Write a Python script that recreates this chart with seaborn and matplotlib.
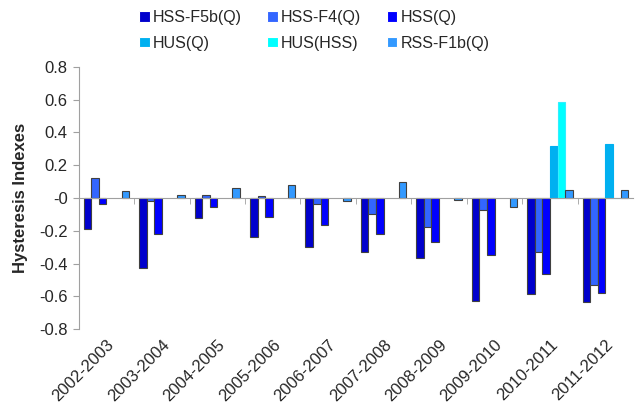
import numpy as np
import pandas as pd
import matplotlib
matplotlib.use("Agg")
import matplotlib.pyplot as plt
import seaborn as sns

# data
years = ["2002-2003", "2003-2004", "2004-2005", "2005-2006", "2006-2007",
         "2007-2008", "2008-2009", "2009-2010", "2010-2011", "2011-2012"]
series = ["HSS-F5b(Q)", "HSS-F4(Q)", "HSS(Q)", "HUS(Q)", "HUS(HSS)", "RSS-F1b(Q)"]

hss_f5b = [-0.192, -0.425, -0.124, -0.237, -0.300, -0.332, -0.365, -0.630, -0.589, -0.634]
hss_f4 = [0.122, -0.016, 0.018, 0.012, -0.036, -0.099, -0.174, -0.071, -0.332, -0.529]
hss_q = [-0.036, -0.221, -0.053, -0.113, -0.164, -0.217, -0.271, -0.348, -0.462, -0.581]
hus_q = [np.nan] * 8 + [0.316, 0.332]
hus_hss = [np.nan] * 8 + [0.587, 0.0]
rss_f1b = [0.043, 0.016, 0.061, 0.079, -0.020, 0.095, -0.012, -0.055, 0.049, 0.050]

colors = ["#0000CC", "#3366FF", "#0000FF", "#00B0F0", "#00FFFF", "#3399FF"]
edges = ["#404040", "#404040", "#404040", "#00B0F0", "#33EEFF", "#404040"]

values = [hss_f5b, hss_f4, hss_q, hus_q, hus_hss, rss_f1b]
df = pd.concat([pd.DataFrame({"year": years, "series": s, "value": v})
                for s, v in zip(series, values)], ignore_index=True)

sns.set_style("white")
plt.rcParams["font.family"] = ["Liberation Sans", "DejaVu Sans"]
plt.rcParams["axes.unicode_minus"] = False

fig, ax = plt.subplots(figsize=(6.35, 4.16), dpi=100)
fig.subplots_adjust(left=0.124, right=0.997, top=0.839, bottom=0.209)

sns.barplot(data=df, x="year", y="value", hue="series", hue_order=series,
            order=years, palette=colors, width=0.82, saturation=1,
            linewidth=0.8, ax=ax)

for cont, ec in zip(ax.containers, edges):
    for bar in cont:
        bar.set_edgecolor(ec)

ax.set_ylim(-0.8, 0.8)
ax.set_yticks(np.arange(-0.8, 0.81, 0.2))
ax.set_yticklabels(["{:g}".format(round(t, 1)) for t in np.arange(-0.8, 0.81, 0.2)],
                   fontsize=12)
ax.set_xlim(-0.5, len(years) - 0.5)
ax.set_ylabel("Hysteresis Indexes", fontsize=12, fontweight="bold", labelpad=8)
ax.set_xlabel("")

for s in ["top", "right"]:
    ax.spines[s].set_visible(False)
ax.spines["left"].set_color("#A0A0A0")
ax.spines["bottom"].set_color("#A0A0A0")
ax.spines["bottom"].set_position(("data", 0))
ax.tick_params(axis="y", left=True, length=4, color="#A0A0A0", pad=4)

# category boundaries as minor ticks on the zero line
ax.set_xticks(np.arange(0.5, len(years) - 0.5, 1), minor=True)
ax.tick_params(axis="x", which="minor", bottom=True, length=4, color="#A0A0A0")
ax.tick_params(axis="x", which="major", bottom=False, labelbottom=False)

# labels sit at the bottom of the plot
sec = ax.secondary_xaxis("bottom")
sec.spines["bottom"].set_visible(False)
sec.set_xticks(range(len(years)))
sec.set_xticklabels(years, rotation=45, ha="right", rotation_mode="anchor", fontsize=12)
sec.tick_params(length=0, pad=6)

# legend filled row by row, like the original
handles, labels = ax.get_legend_handles_labels()
order = [0, 3, 1, 4, 2, 5]
ax.legend([handles[i] for i in order], [labels[i] for i in order],
          loc="lower center", bbox_to_anchor=(0.425, 1.02), ncol=3, frameon=False,
          fontsize=11.5, handlelength=0.65, handleheight=0.65, handletextpad=0.2,
          columnspacing=1.6, labelspacing=0.65, borderaxespad=0.3)

fig.savefig("out.png", dpi=100)
